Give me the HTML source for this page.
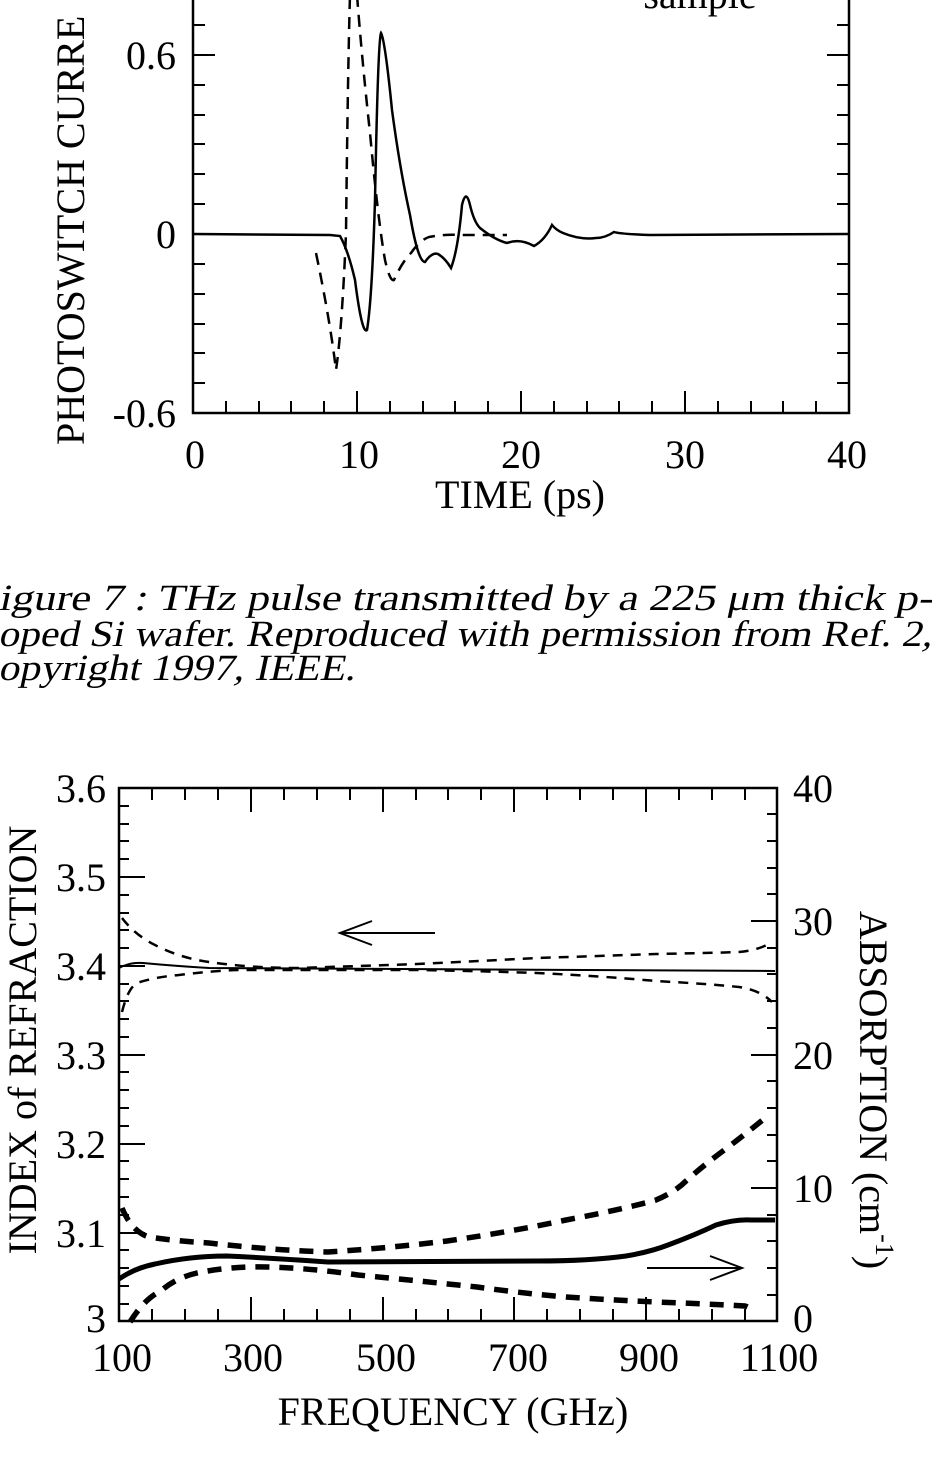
<!DOCTYPE html>
<html><head><meta charset="utf-8"><style>
html,body{margin:0;padding:0;background:#fff;}
svg{display:block;}
text{font-family:"Liberation Serif",serif;fill:#000;}
</style></head><body>
<svg width="932" height="1461" viewBox="0 0 932 1461" xmlns="http://www.w3.org/2000/svg">
<g stroke="#000" fill="none" stroke-width="2.5">
<path d="M193,-5 V413 H849 V-5"/>
</g>
<g stroke="#000" stroke-width="2">
<path d="M226,413v-12M259,413v-12M291,413v-12M324,413v-12M357,413v-22M390,413v-12M423,413v-12M455,413v-12M488,413v-12M521,413v-22M554,413v-12M587,413v-12M619,413v-12M652,413v-12M685,413v-22M718,413v-12M751,413v-12M783,413v-12M816,413v-12"/>
<path d="M193,25h12M193,55h22M193,85h12M193,115h12M193,144h12M193,174h12M193,204h12M193,234h22M193,264h12M193,294h12M193,324h12M193,353h12M193,383h12"/>
<path d="M849,25h-12M849,55h-22M849,85h-12M849,115h-12M849,144h-12M849,174h-12M849,204h-12M849,234h-22M849,264h-12M849,294h-12M849,324h-12M849,353h-12M849,383h-12"/>
</g>
<path fill="none" stroke="#000" stroke-width="2.5" d="M193,234 L330,235 L340,236 Q348,250 355,280 Q362,335 367,330 Q372,300 375,200 Q378,40 381,33 Q385,40 392,110 Q400,170 410,215 Q418,262 425,262 Q432,252 438,254 Q445,258 451,268 Q458,250 462,205 Q466,188 470,205 Q474,222 480,228 Q495,240 507,243 Q520,238 534,246 Q545,240 552,225 Q556,230 563,233 Q580,240 596,238 Q605,238 614,232 Q620,234 650,235 L849,234"/>
<path fill="none" stroke="#000" stroke-width="2.5" stroke-dasharray="12,8" d="M316,253 Q330,320 336,370 Q342,330 346,233 Q348,60 350,-5 M357,-5 Q362,60 370,133 Q378,220 385,260 Q390,282 394,280 Q402,262 411,253 Q420,240 429,237 Q445,234 459,235 L507,235"/>
<text x="700" y="8" font-size="40" text-anchor="middle">sample</text>
<g font-size="40" text-anchor="end">
<text x="176" y="69">0.6</text>
<text x="176" y="248">0</text>
<text x="176" y="427">-0.6</text>
</g>
<g font-size="40" text-anchor="middle">
<text x="195" y="468">0</text>
<text x="359" y="468">10</text>
<text x="521" y="468">20</text>
<text x="685" y="468">30</text>
<text x="847" y="468">40</text>
<text x="520" y="508">TIME (ps)</text>
</g>
<text transform="translate(84,445) rotate(-90)" font-size="40" text-anchor="start">PHOTOSWITCH CURRE</text>

<g font-size="37">
<text transform="translate(-2,610) skewX(-12)" textLength="934" lengthAdjust="spacingAndGlyphs">igure 7 : THz pulse transmitted by a 225 μm thick p-</text>
<text transform="translate(-2,646) skewX(-12)" textLength="934" lengthAdjust="spacingAndGlyphs">oped Si wafer. Reproduced with permission from Ref. 2,</text>
<text transform="translate(-2,680) skewX(-12)" textLength="357" lengthAdjust="spacingAndGlyphs">opyright 1997, IEEE.</text>
</g>

<path fill="none" stroke="#000" stroke-width="2.5" d="M119,788 H777 V1321 H119 Z"/>
<g stroke="#000" stroke-width="2">
<path d="M152,788v12M185,788v12M218,788v12M251,788v24M284,788v12M317,788v12M350,788v12M383,788v24M416,788v12M448,788v12M481,788v12M514,788v24M547,788v12M580,788v12M613,788v12M646,788v24M679,788v12M712,788v12M745,788v12"/>
<path d="M152,1321v-12M185,1321v-12M218,1321v-12M251,1321v-24M284,1321v-12M317,1321v-12M350,1321v-12M383,1321v-24M416,1321v-12M448,1321v-12M481,1321v-12M514,1321v-24M547,1321v-12M580,1321v-12M613,1321v-12M646,1321v-24M679,1321v-12M712,1321v-12M745,1321v-12"/>
<path d="M119,806h10M119,824h10M119,841h10M119,859h10M119,877h26M119,895h10M119,913h10M119,930h10M119,948h10M119,966h26M119,984h10M119,1001h10M119,1019h10M119,1037h10M119,1055h26M119,1072h10M119,1090h10M119,1108h10M119,1126h10M119,1144h26M119,1161h10M119,1179h10M119,1197h10M119,1215h10M119,1233h26M119,1250h10M119,1268h10M119,1286h10M119,1304h10"/>
<path d="M777,814h-10M777,841h-10M777,868h-10M777,894h-10M777,921h-26M777,948h-10M777,974h-10M777,1001h-10M777,1028h-10M777,1055h-26M777,1081h-10M777,1108h-10M777,1135h-10M777,1161h-10M777,1188h-26M777,1215h-10M777,1241h-10M777,1268h-10M777,1295h-10"/>
</g>
<path fill="none" stroke="#000" stroke-width="2" d="M119,968 Q130,962 143,963 Q175,966 209,968 L775,971"/>
<path fill="none" stroke="#000" stroke-width="2.5" stroke-dasharray="10,8" d="M122,918 Q135,935 155,945 Q180,958 209,962 Q250,968 298,968 Q360,966 417,964 Q480,961 537,958 Q600,956 656,954 Q710,953 739,952 Q760,950 772,942"/>
<path fill="none" stroke="#000" stroke-width="2.5" stroke-dasharray="10,8" d="M122,1012 Q128,988 137,983 Q155,977 179,975 Q210,971 238,970 L417,970 Q480,971 537,973 Q600,976 656,981 Q710,984 739,987 Q760,990 772,1002"/>
<path fill="none" stroke="#000" stroke-width="5" d="M119,1279 Q135,1268 155,1264 Q190,1256 227,1256 Q270,1258 328,1262 L537,1261 Q590,1261 626,1256 Q650,1252 668,1245 Q695,1235 716,1225 Q735,1219 751,1220 L775,1220"/>
<path fill="none" stroke="#000" stroke-width="5.5" stroke-dasharray="14,10" d="M122,1208 Q132,1232 149,1237 Q175,1241 209,1243 Q270,1250 328,1252 Q390,1248 447,1241 Q510,1232 566,1220 Q620,1210 656,1200 Q675,1192 686,1181 Q705,1164 727,1148 Q748,1132 765,1118"/>
<path fill="none" stroke="#000" stroke-width="5.5" stroke-dasharray="14,10" d="M130,1322 Q145,1298 161,1291 Q175,1278 197,1273 Q230,1266 268,1267 Q310,1268 358,1275 Q420,1281 477,1287 Q520,1293 566,1297 Q610,1300 656,1302 Q710,1304 745,1306 Q752,1308 752,1312"/>
<g fill="none" stroke="#000" stroke-width="2">
<path d="M435,933 H340 M372,921 L340,933 L372,945"/>
<path d="M647,1268 H742 M710,1256 L742,1268 L710,1280"/>
</g>
<g font-size="40" text-anchor="end">
<text x="106" y="802">3.6</text>
<text x="106" y="891">3.5</text>
<text x="106" y="980">3.4</text>
<text x="106" y="1069">3.3</text>
<text x="106" y="1158">3.2</text>
<text x="106" y="1247">3.1</text>
<text x="106" y="1332">3</text>
</g>
<g font-size="40" text-anchor="start">
<text x="793" y="802">40</text>
<text x="793" y="935">30</text>
<text x="793" y="1069">20</text>
<text x="793" y="1202">10</text>
<text x="793" y="1332">0</text>
</g>
<g font-size="40" text-anchor="middle">
<text x="122" y="1371">100</text>
<text x="253" y="1371">300</text>
<text x="386" y="1371">500</text>
<text x="518" y="1371">700</text>
<text x="649" y="1371">900</text>
<text x="779" y="1371">1100</text>
<text x="453" y="1425">FREQUENCY (GHz)</text>
</g>
<text transform="translate(36,1040) rotate(-90)" font-size="40" text-anchor="middle">INDEX of REFRACTION</text>
<text transform="translate(860,1090) rotate(90)" font-size="40" text-anchor="middle">ABSORPTION (cm<tspan font-size="26" dy="-16">-1</tspan><tspan dy="16">)</tspan></text>
</svg>
</body></html>
